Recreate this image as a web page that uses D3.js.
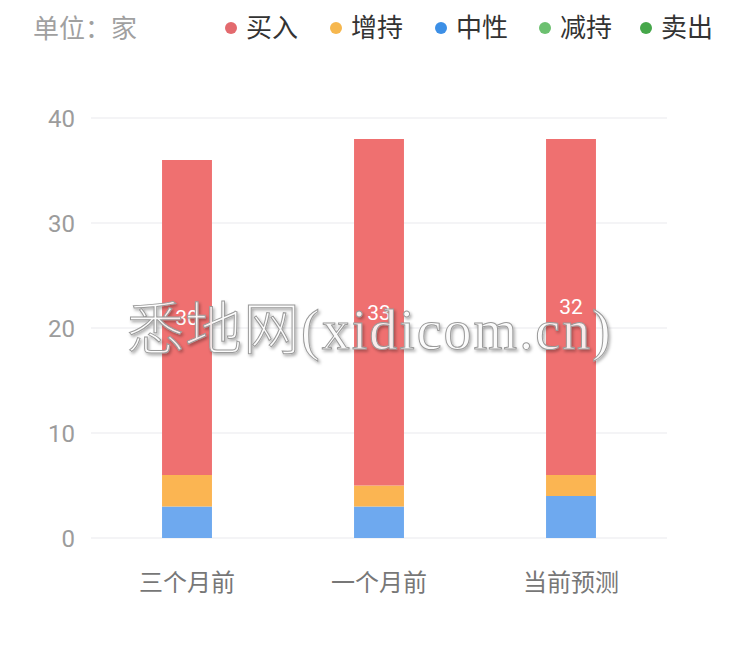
<!DOCTYPE html>
<html>
<head>
<meta charset="utf-8">
<script src="https://cdn.jsdelivr.net/npm/d3@7"></script>
<style>
  html, body { margin: 0; padding: 0; background: #fff; }
  svg { display: block; font-family: Roboto, "Noto Sans CJK SC", sans-serif; }
</style>
</head>
<body>
<svg id="chart"></svg>
<script>
const width = 749, height = 664;

const categories = ['三个月前', '一个月前', '当前预测'];
const seriesNames = ['中性', '增持', '买入', '减持', '卖出'];   // stack order, bottom up
const neutral = [3, 3, 4];
const overweight = [3, 2, 2];
const buy = [30, 33, 32];
const underweight = [0, 0, 0];
const sell = [0, 0, 0];
const yTicks = [0, 10, 20, 30, 40];

const legendNames = ['买入', '增持', '中性', '减持', '卖出'];
const barColor = { '买入': '#ef7070', '增持': '#fbb552', '中性': '#6ea9ef', '减持': '#6cc070', '卖出': '#46a74a' };
const dotColor = { '买入': '#e36a6e', '增持': '#f6b74e', '中性': '#3c8fe6', '减持': '#6cc070', '卖出': '#46a74a' };

const rows = categories.map((c, i) => ({
  cat: c, '中性': neutral[i], '增持': overweight[i], '买入': buy[i], '减持': underweight[i], '卖出': sell[i]
}));
const stacked = d3.stack().keys(seriesNames)(rows);

const svg = d3.select('#chart').attr('width', width).attr('height', height);

const x = d3.scaleBand().domain(categories).range([91, 667]).paddingInner(0.74).paddingOuter(0.37);
const y = d3.scaleLinear().domain([0, 40]).range([538, 118]);

// grid
svg.append('g').selectAll('line').data(yTicks).join('line')
  .attr('x1', 91).attr('x2', 667)
  .attr('y1', d => y(d)).attr('y2', d => y(d))
  .attr('stroke', '#f0f0f3').attr('stroke-width', 1.5);

// y axis labels
svg.append('g').selectAll('text').data(yTicks).join('text')
  .attr('x', 75).attr('y', d => y(d)).attr('dy', '0.36em')
  .attr('text-anchor', 'end').attr('fill', '#9c9c9c').attr('font-size', 24)
  .text(d => d);

// x axis labels
svg.append('g').selectAll('text').data(categories).join('text')
  .attr('x', d => x(d) + x.bandwidth() / 2).attr('y', 591)
  .attr('text-anchor', 'middle').attr('fill', '#777').attr('font-size', 24)
  .attr('font-family', '"Noto Sans CJK SC", sans-serif')
  .text(d => d);

// bars
const layers = svg.append('g').selectAll('g').data(stacked).join('g')
  .attr('fill', d => barColor[d.key]);
layers.selectAll('rect').data(d => d).join('rect')
  .attr('x', d => x(d.data.cat))
  .attr('width', x.bandwidth())
  .attr('y', d => y(d[1]))
  .attr('height', d => y(d[0]) - y(d[1]));

// value labels for buy segment
const buyLayer = stacked.find(s => s.key === '买入');
svg.append('g').selectAll('text').data(buyLayer).join('text')
  .attr('x', d => x(d.data.cat) + x.bandwidth() / 2)
  .attr('y', d => y((d[0] + d[1]) / 2))
  .attr('dy', '0.35em')
  .attr('text-anchor', 'middle').attr('fill', '#fff').attr('font-size', 21)
  .text(d => d[1] - d[0]);

// header: unit + legend
svg.append('text').attr('x', 33).attr('y', 38)
  .attr('fill', '#a0a0a0').attr('font-size', 26)
  .attr('font-family', '"Noto Sans CJK SC", sans-serif')
  .text('单位：家');

const legendX = [231, 336, 441, 545, 646];
const legend = svg.append('g').selectAll('g').data(legendNames).join('g')
  .attr('transform', (d, i) => `translate(${legendX[i]},28)`);
legend.append('circle').attr('r', 6).attr('fill', d => dotColor[d]);
legend.append('text').attr('x', 15).attr('dy', '0.36em')
  .attr('fill', '#333').attr('font-size', 26)
  .attr('font-family', '"Noto Sans CJK SC", sans-serif')
  .text(d => d);

// watermark
const defs = svg.append('defs');
const f = defs.append('filter').attr('id', 'shadow').attr('x', '-10%').attr('y', '-30%').attr('width', '120%').attr('height', '160%');
f.append('feDropShadow').attr('dx', 1.5).attr('dy', 2).attr('stdDeviation', 1.5).attr('flood-color', '#000').attr('flood-opacity', 0.35);

const wm = svg.append('text').attr('x', 127).attr('y', 349)
  .attr('fill', '#fff').attr('fill-opacity', 0.85)
  .attr('stroke', '#9a9a9a').attr('stroke-width', 1)
  .attr('filter', 'url(#shadow)');
wm.append('tspan').attr('font-family', '"Noto Sans CJK SC", sans-serif').attr('font-weight', 300)
  .attr('font-size', 57).attr('letter-spacing', 1).text('悉地网');
wm.append('tspan').attr('font-family', '"Liberation Serif", "DejaVu Serif", serif').attr('font-weight', 300)
  .attr('font-size', 56).attr('letter-spacing', 2).text('(xidicom.cn)');
</script>
</body>
</html>
